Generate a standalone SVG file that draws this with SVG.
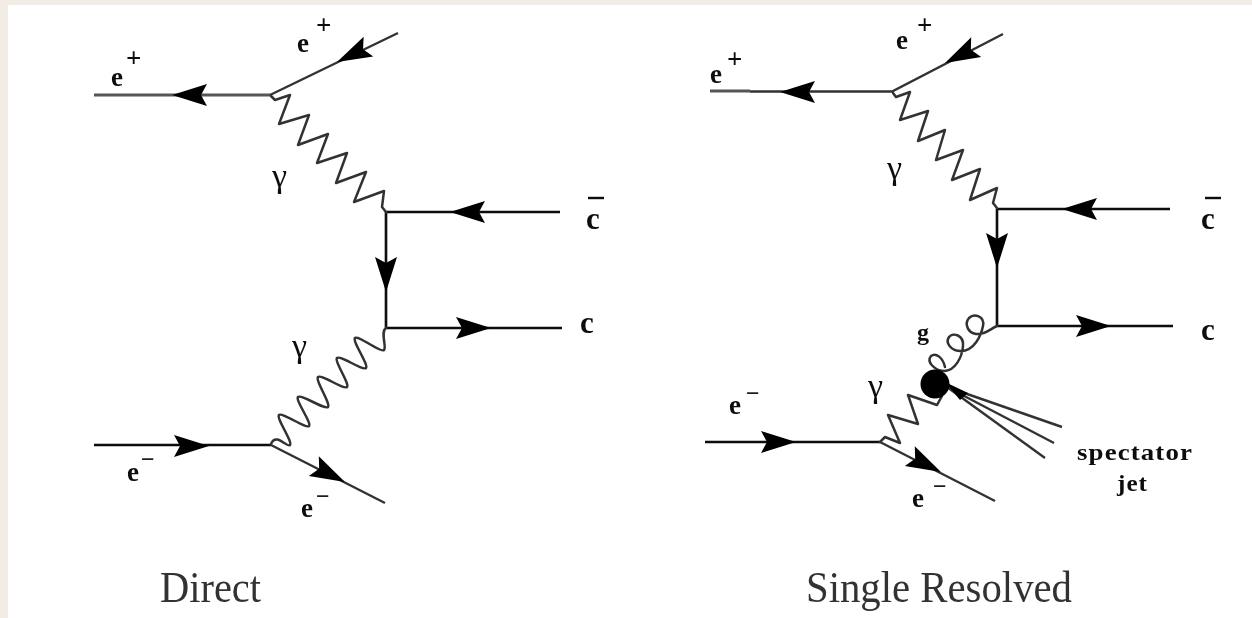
<svg xmlns="http://www.w3.org/2000/svg" xmlns:xlink="http://www.w3.org/1999/xlink" width="1252" height="618" viewBox="0 0 1252 618">
<style>
.f{fill:none;stroke:#111;stroke-width:2.6;stroke-linejoin:round;stroke-linecap:butt}
.d{fill:none;stroke:#333;stroke-width:2.4;stroke-linecap:butt}
.y{fill:none;stroke:#555;stroke-width:3;stroke-linecap:butt}
.w{fill:none;stroke:#333;stroke-width:2.5;stroke-linejoin:round;stroke-linecap:round}
.l{font-family:"Liberation Serif","Times New Roman",serif;fill:#111}
.e{font-size:27px;font-weight:bold}
.p{font-size:27px;font-weight:bold}
.m{font-size:24px;font-weight:bold}
.g{font-size:34px}
.c{font-size:31px;font-weight:bold}
.t{font-size:44px;fill:#333}
.s{font-size:24px;font-weight:bold;letter-spacing:1px}
.h{fill:#000}
</style>
<defs>
<filter id="soft" x="0" y="0" width="1" height="1" filterUnits="objectBoundingBox"><feGaussianBlur stdDeviation="0.75"/></filter>
<path id="ah" d="M0 0L-35 -11L-29 0L-35 11Z"/>
</defs>
<rect width="1252" height="618" fill="#f2ece4"/>
<rect x="8" y="5" width="1244" height="613" fill="#fff"/>
<g filter="url(#soft)">
<g id="connectors">
<g id="direct-lines">
<path class="y" d="M94 95H270"/>
<path class="d" d="M270 95L398 33"/>
<path class="f" d="M94 445H271"/>
<path class="d" d="M271 445L385 503"/>
<path class="f" d="M560 212H386V328H562"/>
<path class="w" d="M271 96L275 100L290 95L279 124L309 115L298 145L328 134L317 163L347 153L336 183L366 172L354 202L384 191L382 207L386 212"/>
<path class="w" d="M386 328C380 332 387 347 384 350S358 335 355 338S369 365 366 368S340 355 337 358S350 384 347 387S321 374 318 377S331 404 328 407S301 394 298 397S312 423 309 426S282 412 279 415S293 442 290 445S276 432 271 444"/>
<use href="#ah" class="h" transform="translate(172 95) rotate(180)"/>
<use href="#ah" class="h" transform="translate(337 62) rotate(154)"/>
<use href="#ah" class="h" transform="translate(450 212) rotate(180)"/>
<use href="#ah" class="h" transform="translate(386 292) rotate(90)"/>
<use href="#ah" class="h" transform="translate(491 328)"/>
<use href="#ah" class="h" transform="translate(209 446)"/>
<use href="#ah" class="h" transform="translate(345 482) rotate(27)"/>
</g>
<g id="resolved-lines">
<path class="y" d="M710 91H750"/>
<path class="d" d="M750 91.500H892L1003 34"/>
<path class="f" d="M705 442H880"/>
<path class="d" d="M880 442L995 501"/>
<path class="f" d="M1170 209H997V326H1173"/>
<path class="w" d="M893 93L896 97L910 92L900 120L928 111L918 141L945 130L936 160L963 150L952 180L980 169L970 200L997 188L993 203L997 208"/>
<path class="w" d="M880 442L885 437L900 443L888 415L918 424L908 395L937 405L942 396"/>
<path class="w" d="M997 326C990 329 985 335 976 334C968 333 964 324 969 318C974 313 985 316 983 326C981 336 974 351 961 351C951 351 945 343 949 337C953 332 964 335 963 346C962 358 955 370 945 371C935 371 926 362 931 356C936 352 943 358 945 367"/>
<path class="d" d="M947 387L1062 427M947 387L1054 443M947 387L1045 458"/>
<path class="h" d="M945 382L968 393L960 400Z"/>
<use href="#ah" class="h" transform="translate(780 92) rotate(180)"/>
<use href="#ah" class="h" transform="translate(945 63) rotate(153)"/>
<use href="#ah" class="h" transform="translate(1062 209) rotate(180)"/>
<use href="#ah" class="h" transform="translate(997 268) rotate(90)"/>
<use href="#ah" class="h" transform="translate(1111 326)"/>
<use href="#ah" class="h" transform="translate(796 442)"/>
<use href="#ah" class="h" transform="translate(941 472) rotate(27)"/>
</g>
</g>
<g id="blob"><circle cx="935" cy="384" r="14.500" fill="#000"/></g>
<g id="direct-labels">
<text class="l e" x="111" y="86">e<tspan class="p" x="126" y="67">+</tspan></text>
<text class="l e" x="297" y="52">e<tspan class="p" x="316" y="34">+</tspan></text>
<text class="l e" x="127" y="481">e<tspan class="m" x="141" y="467">−</tspan></text>
<text class="l e" x="301" y="517">e<tspan class="m" x="316" y="504">−</tspan></text>
<text class="l g" x="272" y="187">γ</text>
<text class="l g" x="292" y="357">γ</text>
<text class="l c" x="586" y="229">c</text>
<line x1="588" y1="198" x2="604" y2="198" stroke="#111" stroke-width="2.4"/>
<text class="l c" x="580" y="333">c</text>
<text class="l t" id="direct-title" x="160" y="602" textLength="101" lengthAdjust="spacingAndGlyphs">Direct</text>
</g>
<g id="resolved-labels">
<text class="l e" x="710" y="83">e<tspan class="p" x="727" y="68">+</tspan></text>
<text class="l e" x="896" y="49">e<tspan class="p" x="917" y="34">+</tspan></text>
<text class="l e" x="729" y="414">e<tspan class="m" x="746" y="401">−</tspan></text>
<text class="l e" x="912" y="507">e<tspan class="m" x="933" y="494">−</tspan></text>
<text class="l g" x="887" y="179">γ</text>
<text class="l g" x="868" y="397">γ</text>
<text class="l c" x="1201" y="229">c</text>
<line x1="1205" y1="198" x2="1221" y2="198" stroke="#111" stroke-width="2.4"/>
<text class="l c" x="1201" y="340">c</text>
<text class="l e" x="917" y="340" style="font-size:24px">g</text>
<text class="l s" x="1077" y="460" textLength="116" lengthAdjust="spacingAndGlyphs">spectator</text>
<text class="l s" x="1117" y="491" textLength="31" lengthAdjust="spacingAndGlyphs">jet</text>
<text class="l t" id="resolved-title" x="806" y="602" textLength="266" lengthAdjust="spacingAndGlyphs">Single Resolved</text>
</g>
</g>
</svg>
